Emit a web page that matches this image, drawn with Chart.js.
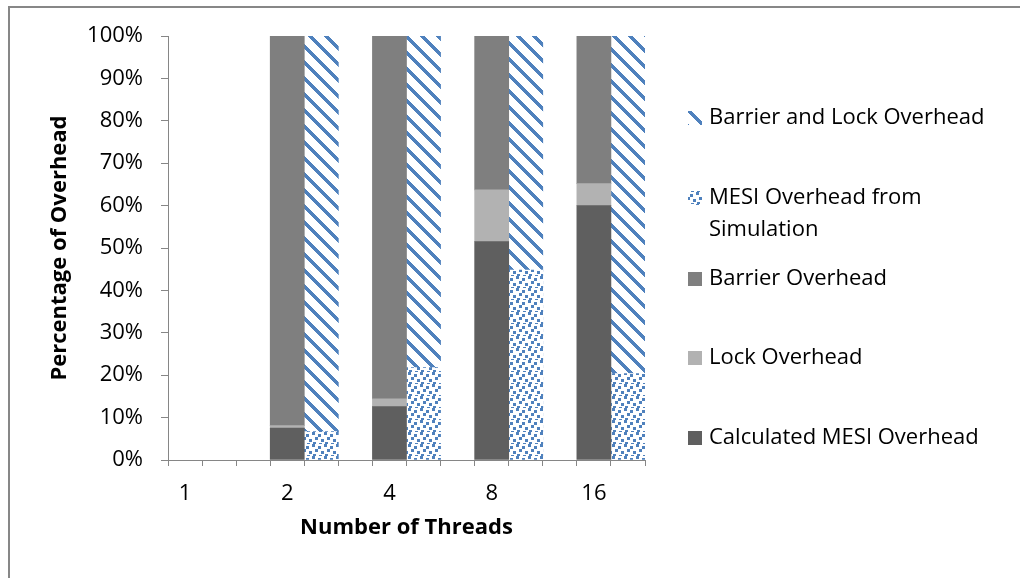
<!DOCTYPE html>
<html>
<head>
<meta charset="utf-8">
<script src="https://cdn.jsdelivr.net/npm/chart.js@4.4.0/dist/chart.umd.min.js"></script>
<style>
  html, body { margin: 0; background: #fff; overflow: hidden; }
  #frame { position: absolute; left: 8px; top: 6px; width: 1100px; height: 700px; border: 2px solid #878787; }
  #wrap { position: absolute; left: 0; top: 0; width: 1020px; height: 578px; }
</style>
</head>
<body>
<div id="frame"></div>
<div id="wrap"><canvas id="myChart" width="1020" height="578"></canvas></div>
<script>
var threads = ['1', '2', '4', '8', '16'];
var calcMesi = [0, 7.5, 12.6, 51.5, 60.0];
var lockOverhead = [0, 0.6, 1.8, 12.2, 5.2];
var barrierOverhead = [0, 91.9, 85.6, 36.3, 34.8];
var simMesi = [0, 6.7, 21.8, 44.8, 20.4];
var barrierLock = [0, 93.3, 78.2, 55.2, 79.6];
var yTicks = [0, 10, 20, 30, 40, 50, 60, 70, 80, 90, 100];

var BLUE = 'rgb(79,129,189)';
var FONT = "'Open Sans', sans-serif";

// each thread count gets three slots: gray stack, blue stack, gap
var slotLabels = [];
threads.forEach(function (t, i) {
  slotLabels.push(t, '');
  if (i < threads.length - 1) slotLabels.push('');
});
function nz(v) { return v === 0 ? null : v; }
function graySlots(arr) {
  var out = [];
  arr.forEach(function (v, i) { out.push(nz(v), null); if (i < arr.length - 1) out.push(null); });
  return out;
}
function blueSlots(arr) {
  var out = [];
  arr.forEach(function (v, i) { out.push(null, nz(v)); if (i < arr.length - 1) out.push(null); });
  return out;
}

function makeTile(size, test) {
  var c = document.createElement('canvas');
  c.width = size; c.height = size;
  var g = c.getContext('2d');
  var img = g.createImageData(size, size);
  for (var y = 0; y < size; y++) {
    for (var x = 0; x < size; x++) {
      var k = (y * size + x) * 4;
      var on = test(x, y);
      img.data[k] = on ? 79 : 255;
      img.data[k + 1] = on ? 129 : 255;
      img.data[k + 2] = on ? 189 : 255;
      img.data[k + 3] = 255;
    }
  }
  g.putImageData(img, 0, 0);
  return c;
}
var stripeTile = makeTile(16, function (x, y) { return ((x - y) % 16 + 16) % 16 < 5; });
var dots = [[0, 0], [6, 2], [3, 5], [9, 7], [1, 10], [7, 11]];
var confettiTile = makeTile(12, function (x, y) {
  return dots.some(function (d) { return x >= d[0] && x < d[0] + 3 && y >= d[1] && y < d[1] + 3; });
});

var ctx = document.getElementById('myChart').getContext('2d');
var stripes = ctx.createPattern(stripeTile, 'repeat');
var confetti = ctx.createPattern(confettiTile, 'repeat');

var legendItems = [
  { text: 'Barrier and Lock Overhead', fill: stripes, y: 118 },
  { text: 'MESI Overhead from\nSimulation', fill: confetti, y: 198 },
  { text: 'Barrier Overhead', fill: '#7f7f7f', y: 279 },
  { text: 'Lock Overhead', fill: '#b2b2b2', y: 358 },
  { text: 'Calculated MESI Overhead', fill: '#5f5f5f', y: 438 }
];

var sideLegend = {
  id: 'sideLegend',
  afterDraw: function (chart) {
    var c = chart.ctx;
    c.save();
    c.font = '22px ' + FONT;
    c.textBaseline = 'middle';
    legendItems.forEach(function (it) {
      c.fillStyle = it.fill;
      c.fillRect(688, it.y - 7, 14, 14);
      c.fillStyle = '#000';
      it.text.split('\n').forEach(function (line, j) {
        c.fillText(line, 709, it.y + j * 32);
      });
    });
    c.restore();
  }
};

var myChart = new Chart(ctx, {
  type: 'bar',
  data: {
    labels: slotLabels,
    datasets: [
      { label: 'Calculated MESI Overhead', data: graySlots(calcMesi), backgroundColor: '#5f5f5f' },
      { label: 'Lock Overhead', data: graySlots(lockOverhead), backgroundColor: '#b2b2b2' },
      { label: 'Barrier Overhead', data: graySlots(barrierOverhead), backgroundColor: '#7f7f7f' },
      { label: 'MESI Overhead from Simulation', data: blueSlots(simMesi), backgroundColor: confetti },
      { label: 'Barrier and Lock Overhead', data: blueSlots(barrierLock), backgroundColor: stripes }
    ]
  },
  options: {
    responsive: false,
    animation: false,
    barPercentage: 1,
    categoryPercentage: 1,
    layout: { padding: { left: 10, top: 36, right: 375, bottom: 0 } },
    plugins: {
      legend: { display: false },
      tooltip: { enabled: false }
    },
    scales: {
      x: {
        stacked: true,
        afterFit: function (s) { s.height = 118; },
        grid: { offset: true, drawOnChartArea: false, tickLength: 6, color: '#868686' },
        border: { color: '#868686', width: 1 },
        ticks: { autoSkip: false, maxRotation: 0, color: '#000', padding: 15, font: { family: FONT, size: 22 } },
        title: {
          display: true, text: 'Number of Threads', color: '#000',
          font: { family: FONT, size: 22, weight: 'bold' }, padding: { top: 0, bottom: 37 }
        }
      },
      y: {
        stacked: true,
        min: 0,
        max: 100,
        afterFit: function (s) { s.width = 158; },
        afterBuildTicks: function (s) { s.ticks = yTicks.map(function (v) { return { value: v }; }); },
        grid: { drawOnChartArea: false, tickLength: 7, color: '#868686' },
        border: { color: '#868686', width: 1 },
        ticks: {
          color: '#000', padding: 18, font: { family: FONT, size: 22 },
          callback: function (v) { return v + '%'; }
        },
        title: {
          display: true, text: 'Percentage of Overhead', color: '#000',
          font: { family: FONT, size: 22, weight: 'bold' }, padding: { top: 37, bottom: 0 }
        }
      }
    }
  },
  plugins: [sideLegend]
});
</script>
</body>
</html>
